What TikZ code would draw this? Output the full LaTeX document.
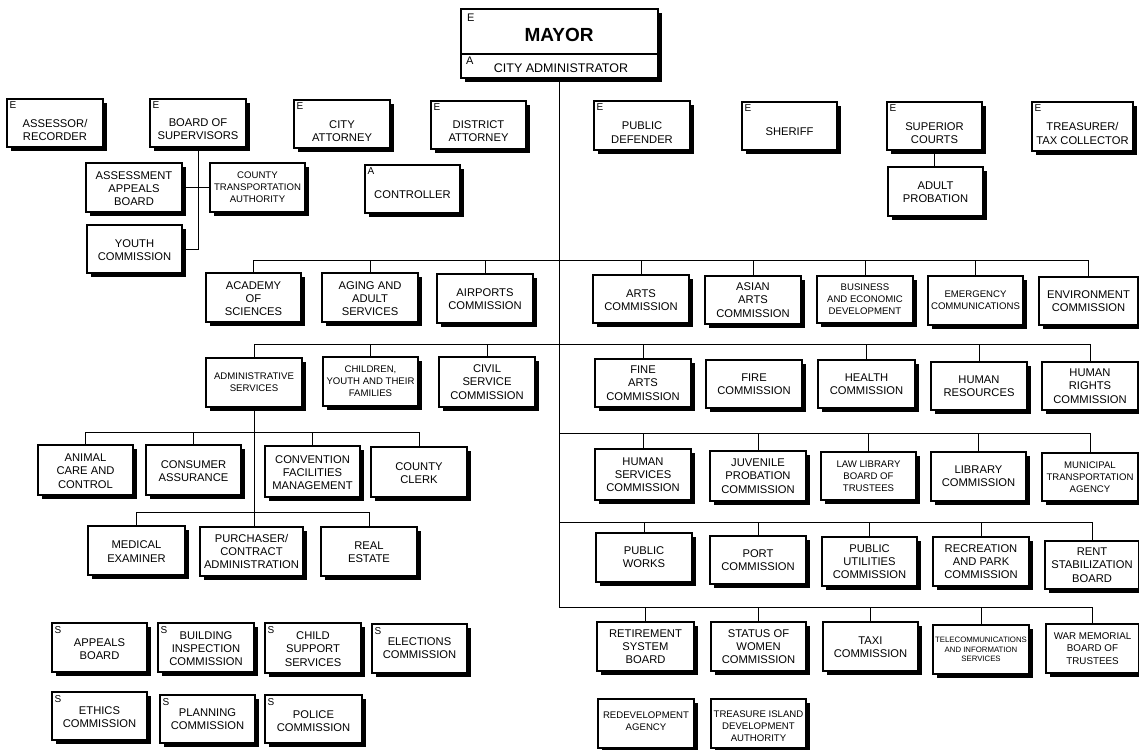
\documentclass[tikz,border=0pt]{standalone}
\usepackage{fontspec}
\setmainfont{Liberation Sans}
\usetikzlibrary{shadows}
\tikzset{
  orgbox/.style={draw=black, line width=1.3pt, fill=white, inner sep=0pt,
    general shadow={shadow xshift=3.6pt, shadow yshift=-3.6pt, fill=black}},
  txt/.style={align=center, inner sep=0pt, font=\fontsize{11.2}{13.2}\selectfont},
  smallt/.style={font=\fontsize{9.6}{12}\selectfont},
  tinyt/.style={font=\fontsize{7.8}{9.8}\selectfont},
  warm/.style={font=\fontsize{9.8}{12.5}\selectfont},
  lbl/.style={anchor=north west, inner sep=0pt, font=\fontsize{10}{11}\selectfont},
  conn/.style={draw=black, line width=1pt},
}
% [text options]{name}{x1}{y1}{x2}{y2}{text shift down}{text}
\newcommand\obox[8][]{%
  \pgfmathsetmacro\bw{#5-#3}%
  \pgfmathsetmacro\bh{#6-#4}%
  \pgfmathsetmacro\cx{(#3+#5)/2}%
  \pgfmathsetmacro\cy{(#4+#6)/2}%
  \node[orgbox,minimum width=\bw pt,minimum height=\bh pt] (#2) at (\cx,\cy) {};
  \node[txt,#1] at ([yshift=-#7pt]#2.center) {#8};}
\newcommand\corner[2]{\node[lbl] at ([xshift=3pt,yshift=-3.5pt]#1.north west) {#2};}
\newcommand\drop[2]{\draw[conn] (#1.north) -- (#1.north |- 0,#2);}
\begin{document}
\begin{tikzpicture}[x=1pt,y=-1pt]
\useasboundingbox (0,0) rectangle (1139,749);
\fill[white] (0,0) rectangle (1139,749);

% Mayor
\obox{mayor}{461}{9}{658}{78}{0}{}
\draw[line width=1.1pt] (mayor.west |- 0,54) -- (mayor.east |- 0,54);
\node[txt,font=\fontsize{19}{20}\bfseries] (mayortxt) at (559,35) {MAYOR};
\node[txt,font=\fontsize{12.5}{14}\selectfont] (cityadm) at (561,68) {CITY ADMINISTRATOR};
\node[lbl,font=\fontsize{11}{12}\selectfont] (mayorE) at (467,14) {E};
\node[lbl,font=\fontsize{11}{12}\selectfont] (mayorA) at (466,57) {A};

% Elected officials row
\obox{assessor}{7}{99}{103}{147}{7}{ASSESSOR/\\RECORDER}\corner{assessor}{E}
\obox{board}{150}{99}{246}{147}{6}{BOARD OF\\SUPERVISORS}\corner{board}{E}
\obox{cityatt}{294}{100}{390}{148}{7}{CITY\\ATTORNEY}\corner{cityatt}{E}
\obox{distatt}{431}{101}{526}{149}{6}{DISTRICT\\ATTORNEY}\corner{distatt}{E}
\obox{pubdef}{594}{101}{690}{150}{7}{PUBLIC\\DEFENDER}\corner{pubdef}{E}
\obox{sheriff}{742}{102}{837}{150}{6}{SHERIFF}\corner{sheriff}{E}
\obox{supcourts}{887}{102}{982}{150}{7}{SUPERIOR\\COURTS}\corner{supcourts}{E}
\obox{treasurer}{1032}{102}{1133}{151}{7}{TREASURER/\\TAX COLLECTOR}\corner{treasurer}{E}

\obox{assessment}{86}{163}{182}{212}{1}{ASSESSMENT\\APPEALS\\BOARD}
\obox[smallt]{cta}{210}{163}{305}{212}{0}{COUNTY\\TRANSPORTATION\\AUTHORITY}
\obox{youth}{87}{225}{182}{273}{1}{YOUTH\\COMMISSION}
\obox{controller}{365}{165}{460}{213}{6}{CONTROLLER}\corner{controller}{A}
\obox{adultprob}{888}{167}{983}{216}{1}{ADULT\\PROBATION}

% Left departments
\obox{academy}{206}{273}{301}{322}{1}{ACADEMY\\OF\\SCIENCES}
\obox{aging}{322}{273}{418}{322}{1}{AGING AND\\ADULT\\SERVICES}
\obox{airports}{437}{274}{533}{323}{1}{AIRPORTS\\COMMISSION}
\obox[smallt]{admin}{206}{358}{302}{407}{0}{ADMINISTRATIVE\\SERVICES}
\obox[smallt]{children}{323}{357}{418}{406}{0}{CHILDREN,\\YOUTH AND THEIR\\FAMILIES}
\obox{civil}{439}{357}{535}{407}{0}{CIVIL\\SERVICE\\COMMISSION}
\obox{animal}{38}{445}{133}{495}{1}{ANIMAL\\CARE AND\\CONTROL}
\obox{consumer}{146}{445}{241}{495}{1}{CONSUMER\\ASSURANCE}
\obox{convention}{265}{446}{360}{497}{1}{CONVENTION\\FACILITIES\\MANAGEMENT}
\obox{clerk}{371}{447}{467}{497}{1}{COUNTY\\CLERK}
\obox{medical}{88}{526}{185}{575}{1}{MEDICAL\\EXAMINER}
\obox{purchaser}{200}{527}{303}{576}{0}{PURCHASER/\\CONTRACT\\ADMINISTRATION}
\obox{realestate}{321}{527}{417}{576}{1}{REAL\\ESTATE}

% S boxes
\obox{appeals}{52}{623}{147}{672}{2}{APPEALS\\BOARD}\corner{appeals}{S}
\obox{building}{158}{623}{254}{672}{1}{BUILDING\\INSPECTION\\COMMISSION}\corner{building}{S}
\obox{childsup}{265}{623}{361}{673}{1}{CHILD\\SUPPORT\\SERVICES}\corner{childsup}{S}
\obox{elections}{372}{624}{467}{673}{0}{ELECTIONS\\COMMISSION}\corner{elections}{S}
\obox{ethics}{52}{692}{147}{740}{1}{ETHICS\\COMMISSION}\corner{ethics}{S}
\obox{planning}{160}{695}{255}{743}{0}{PLANNING\\COMMISSION}\corner{planning}{S}
\obox{police}{265}{695}{362}{743}{2}{POLICE\\COMMISSION}\corner{police}{S}

% Right departments
\obox{arts}{593}{275}{689}{323}{1}{ARTS\\COMMISSION}
\obox{asian}{705}{276}{801}{324}{0}{ASIAN\\ARTS\\COMMISSION}
\obox[smallt]{business}{817}{276}{913}{323}{0}{BUSINESS\\AND ECONOMIC\\DEVELOPMENT}
\obox[smallt]{emergency}{928}{276}{1023}{325}{0}{EMERGENCY\\COMMUNICATIONS}
\obox{environment}{1039}{277}{1138}{325}{0}{ENVIRONMENT\\COMMISSION}
\obox{finearts}{595}{359}{691}{407}{0}{FINE\\ARTS\\COMMISSION}
\obox{fire}{706}{360}{802}{408}{0}{FIRE\\COMMISSION}
\obox{health}{818}{360}{915}{408}{0}{HEALTH\\COMMISSION}
\obox{humanres}{931}{362}{1027}{410}{0}{HUMAN\\RESOURCES}
\obox{humanrights}{1042}{362}{1138}{410}{0}{HUMAN\\RIGHTS\\COMMISSION}
\obox{humanserv}{595}{449}{691}{500}{0}{HUMAN\\SERVICES\\COMMISSION}
\obox{juvenile}{710}{451}{806}{501}{0}{JUVENILE\\PROBATION\\COMMISSION}
\obox[smallt]{lawlib}{821}{452}{916}{500}{0}{LAW LIBRARY\\BOARD OF\\TRUSTEES}
\obox{library}{931}{452}{1026}{501}{0}{LIBRARY\\COMMISSION}
\obox[smallt]{municipal}{1042}{453}{1138}{501}{0}{MUNICIPAL\\TRANSPORTATION\\AGENCY}
\obox{pubworks}{596}{533}{692}{582}{0}{PUBLIC\\WORKS}
\obox{port}{710}{536}{806}{584}{0}{PORT\\COMMISSION}
\obox{pubutil}{822}{537}{917}{586}{0}{PUBLIC\\UTILITIES\\COMMISSION}
\obox{recreation}{933}{537}{1029}{586}{0}{RECREATION\\AND PARK\\COMMISSION}
\obox{rent}{1045}{541}{1139}{589}{0}{RENT\\STABILIZATION\\BOARD}
\obox{retirement}{597}{622}{694}{671}{0}{RETIREMENT\\SYSTEM\\BOARD}
\obox{status}{711}{622}{806}{671}{0}{STATUS OF\\WOMEN\\COMMISSION}
\obox{taxi}{823}{622}{918}{671}{1}{TAXI\\COMMISSION}
\obox[tinyt]{telecom}{933}{625}{1029}{674}{0}{TELECOMMUNICATIONS\\AND INFORMATION\\SERVICES}
\obox[warm]{warmem}{1046}{624}{1139}{673}{0}{WAR MEMORIAL\\BOARD OF\\TRUSTEES}
\obox[smallt]{redev}{598}{699}{694}{748}{-2}{REDEVELOPMENT\\AGENCY}
\obox[smallt]{treasure}{711}{699}{806}{748}{3}{TREASURE ISLAND\\DEVELOPMENT\\AUTHORITY}

% Connectors
\draw[conn] (board.south) |- (youth.east);
\draw[conn] (assessment.east) -- (cta.west);
\draw[conn] (supcourts.south) -- (supcourts.south |- adultprob.north);

\draw[conn] (mayor.south) |- (warmem.north |- 0,607) -- (warmem.north);
\foreach \n in {retirement,status,taxi,telecom} {\drop{\n}{607}}

\draw[conn] (academy.north) |- (environment.north |- 0,260) -- (environment.north);
\foreach \n in {aging,airports,arts,asian,business,emergency} {\drop{\n}{260}}

\draw[conn] (admin.north) |- (humanrights.north |- 0,344) -- (humanrights.north);
\foreach \n in {children,civil,finearts,health,humanres} {\drop{\n}{344}}

\draw[conn] (mayor.south |- 0,433) -| (municipal.north);
\foreach \n in {humanserv,juvenile,lawlib,library} {\drop{\n}{433}}

\draw[conn] (mayor.south |- 0,522) -| (rent.north);
\foreach \n in {pubworks,port,pubutil,recreation} {\drop{\n}{522}}

\draw[conn] (admin.south) -- (admin.south |- purchaser.north);
\draw[conn] (animal.north) |- (clerk.north |- 0,432) -- (clerk.north);
\foreach \n in {consumer,convention} {\drop{\n}{432}}
\draw[conn] (medical.north) |- (realestate.north |- 0,512) -- (realestate.north);
\end{tikzpicture}
\end{document}
